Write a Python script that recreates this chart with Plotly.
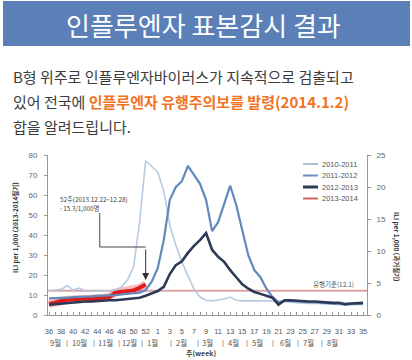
import plotly.graph_objects as go

# ---------------- data ----------------
weeks = [str(w) for w in list(range(36, 54)) + list(range(1, 36))]
series_names = ["2010-2011", "2011-2012", "2012-2013", "2013-2014"]

# past seasons (right axis, ILI per 1,000)
s2010 = [3.8, 3.9, 4.0, 4.6, 3.9, 4.2, 3.8, 3.7, 3.7, 3.8, 3.8, 3.9,
         4.4, 5.5, 7.5, 14.5, 24.1, 23.2, 22.3, 19.4, 14.0, 10.9, 8.3, 6.1,
         4.1, 2.8, 2.3, 2.2, 2.3, 2.5, 2.8, 2.3, 2.2,
         2.2, 2.1, 2.1, 2.2, 2.2, 2.0, 2.1, 2.0, 1.9, 1.9, 1.8, 1.8, 1.8,
         1.8, 1.7, 1.6, 1.7, 1.7, 1.6, 1.6]
s2011 = [2.6, 2.6, 2.7, 2.7, 2.8, 2.8, 2.9, 2.9, 3.0, 3.0, 3.1, 3.1,
         3.2, 3.3, 3.4, 3.5, 3.9, 5.2, 7.3, 11.7, 18.0, 20.0, 20.9, 23.3,
         21.9, 20.5, 18.0, 13.1, 14.5, 17.2, 20.2, 17.2, 13.3, 9.3, 7.0,
         5.9, 4.1, 2.8, 2.0, 2.2, 2.2, 2.1, 2.1, 2.0, 2.0, 1.9, 1.9, 1.8,
         1.8, 1.6, 1.7, 1.8, 1.8]
s2012 = [1.6, 1.7, 1.8, 1.9, 2.0, 2.0, 2.1, 2.1, 2.2, 2.2, 2.3, 2.3,
         2.4, 2.5, 2.6, 2.7, 3.0, 3.4, 3.75, 4.4, 6.4, 7.8, 8.4, 9.7,
         10.8, 11.7, 12.8, 10.2, 9.1, 8.3, 7.0, 5.9, 4.8, 4.1, 3.6, 3.3,
         3.0, 2.7, 1.6, 2.3, 2.3, 2.2, 2.2, 2.1, 2.1, 2.0, 2.0, 1.9, 1.9,
         1.7, 1.8, 1.9, 1.9]
# current season (left axis)
s2013 = [5.4, 6.4, 7.0, 7.6, 7.8, 8.2, 8.2, 8.0, 8.4, 8.6, 9.0, 11.2,
         11.6, 11.8, 12.3, 13.6, 15.3]
threshold = 12.1

month_labels = ["9월", "10월", "11월", "12월", "1월", "2월", "3월", "4월",
                "5월", "6월", "7월", "8월"]
# label centres / separators, in week-slot units along the x axis
month_centers = [1.0, 5.1, 9.3, 13.4, 17.2, 22.0, 26.3, 30.5, 34.6, 39.1, 43.0, 47.0]
month_seps = [3.0, 7.5, 11.6, 15.4, 20.2, 24.7, 28.8, 32.8, 37.1, 41.2, 45.2]

# ---------------- styles ----------------
W, H = 412, 360
L, R, T, B = 48, 367, 155, 315
KR = "Noto Sans CJK KR"


def px(p):
    return (p - L) / (R - L)


def py(p):
    return (B - p) / (B - T)


colors = ["#b7cbe0", "#6388bc", "#2d3a56", "#e01b1b"]

fig = go.Figure()
fig.add_trace(go.Scatter(x=weeks, y=s2010, yaxis="y2", mode="lines", name=series_names[0],
                         line=dict(color=colors[0], width=1.6)))
fig.add_trace(go.Scatter(x=weeks, y=s2011, yaxis="y2", mode="lines", name=series_names[1],
                         line=dict(color=colors[1], width=2.2)))
fig.add_trace(go.Scatter(x=weeks, y=s2012, yaxis="y2", mode="lines", name=series_names[2],
                         line=dict(color=colors[2], width=2.6)))
fig.add_trace(go.Scatter(x=weeks[:len(s2013)], y=s2013, mode="lines", name=series_names[3] + " halo",
                         line=dict(color="rgba(235,70,70,0.35)", width=8), hoverinfo="skip"))
fig.add_trace(go.Scatter(x=weeks[:len(s2013)], y=s2013, mode="lines", name=series_names[3],
                         line=dict(color=colors[3], width=4)))

shapes = []
annotations = []


def note(text, x, y, size, color="#444", family=KR, xref="paper", yref="paper",
         xanchor="center", yanchor="middle", **kw):
    annotations.append(dict(text=text, x=x, y=y, xref=xref, yref=yref, xanchor=xanchor,
                            yanchor=yanchor, showarrow=False,
                            font=dict(family=family, size=size, color=color), **kw))


# title bar
shapes.append(dict(type="rect", xref="paper", yref="paper", x0=px(3), x1=px(410),
                   y0=py(46), y1=py(1), fillcolor="#5b80b8", line=dict(width=0), layer="below"))
note("인플루엔자 표본감시 결과", px(203), py(24), 26, color="white")

# body text
body = [
    "B형 위주로 인플루엔자바이러스가 지속적으로 검출되고",
    "있어 전국에 <span style='color:#f2731f'><b>인플루엔자 유행주의보를 발령(2014.1.2)</b></span>",
    "합을 알려드립니다.",
]
for i, line in enumerate(body):
    note(line, px(11), py(76 + 25 * i), 15, color="#3c3c3c", xanchor="left")

# threshold
shapes.append(dict(type="line", xref="paper", yref="y", x0=0, x1=1, y0=threshold, y1=threshold,
                   line=dict(color="#dca4a4", width=2), layer="below"))
note("유행기준(%s)" % threshold, px(356), threshold, 6.5, color="#555", yref="y",
     xanchor="right", yshift=7)

# callout
note("52주(2013.12.22~12.28)", px(58), py(199), 6.3, xanchor="left")
note(": %s/1,000명" % s2013[-1], px(58), py(208.5), 6.3, xanchor="left")
cx = 8.4
shapes.append(dict(type="line", xref="x", yref="y", x0=cx, x1=cx, y0=51.0, y1=34,
                   line=dict(color="#444", width=1)))
shapes.append(dict(type="line", xref="x", yref="y", x0=cx, x1=len(s2013) - 1, y0=34, y1=34,
                   line=dict(color="#444", width=1)))
annotations.append(dict(xref="x", yref="y", x=len(s2013) - 1, y=s2013[-1] + 2.2, ax=0, ay=-32,
                        showarrow=True, arrowhead=2, arrowsize=1.4, arrowwidth=1,
                        arrowcolor="#333", text=""))

# manual legend
leg_y = [164, 175.5, 187, 198.5]
leg_col = ["#a9c2dc", "#6b8fc0", "#2d3a56", "#d06464"]
leg_w = [2, 2, 3, 2]
for name, yy, c, w in zip(series_names, leg_y, leg_col, leg_w):
    shapes.append(dict(type="line", xref="paper", yref="paper", x0=px(303), x1=px(318),
                       y0=py(yy), y1=py(yy), line=dict(color=c, width=w)))
    note(name, px(320), py(yy), 7.5, color="#555", family="Liberation Sans", xanchor="left")

# axis titles
note("<b>ILI per 1,000 (2013-2014절기)</b>", px(15), py(228), 6.5, color="#333", textangle=-90)
note("<b>ILI per 1,000 (과거절기)</b>", px(397), py(247), 6.5, color="#333", textangle=90)
note("<b>주(week)</b>", px(201), py(353), 7, color="#444")

# month row
for m, c in zip(month_labels, month_centers):
    note(m, c, py(342), 7.5, color="#555", xref="x")
for s in month_seps:
    note("|", s, py(342), 7.5, color="#777", family="Liberation Sans", xref="x")

tick_text = [w if i % 2 == 0 else "" for i, w in enumerate(weeks)]

fig.update_layout(
    width=W, height=H, margin=dict(l=L, r=W - R, t=T, b=H - B),
    paper_bgcolor="white", plot_bgcolor="white", showlegend=False,
    shapes=shapes, annotations=annotations,
    xaxis=dict(type="category", categoryorder="array", categoryarray=weeks,
               range=[-0.17, 52.65], tickmode="array", tickvals=weeks, ticktext=tick_text,
               ticks="inside", ticklen=3, tickcolor="#999", showline=True, linecolor="#999",
               showgrid=False, zeroline=False, ticklabelstandoff=9,
               tickfont=dict(family="Liberation Sans", size=7.5, color="#555")),
    yaxis=dict(range=[0, 80], dtick=10, ticks="outside", ticklen=3, tickcolor="#999",
               showline=True, linecolor="#999", showgrid=False, zeroline=False,
               ticklabelstandoff=5,
               tickfont=dict(family="Liberation Sans", size=8, color="#666")),
    yaxis2=dict(range=[0, 25], dtick=5, overlaying="y", side="right", ticks="outside",
                ticklen=3, tickcolor="#999", showline=True, linecolor="#999",
                showgrid=False, zeroline=False, ticklabelstandoff=4,
                tickfont=dict(family="Liberation Sans", size=8, color="#666")),
)

fig.write_html("out.html", config={"displayModeBar": False},
               post_script="document.body.style.margin='0';")
